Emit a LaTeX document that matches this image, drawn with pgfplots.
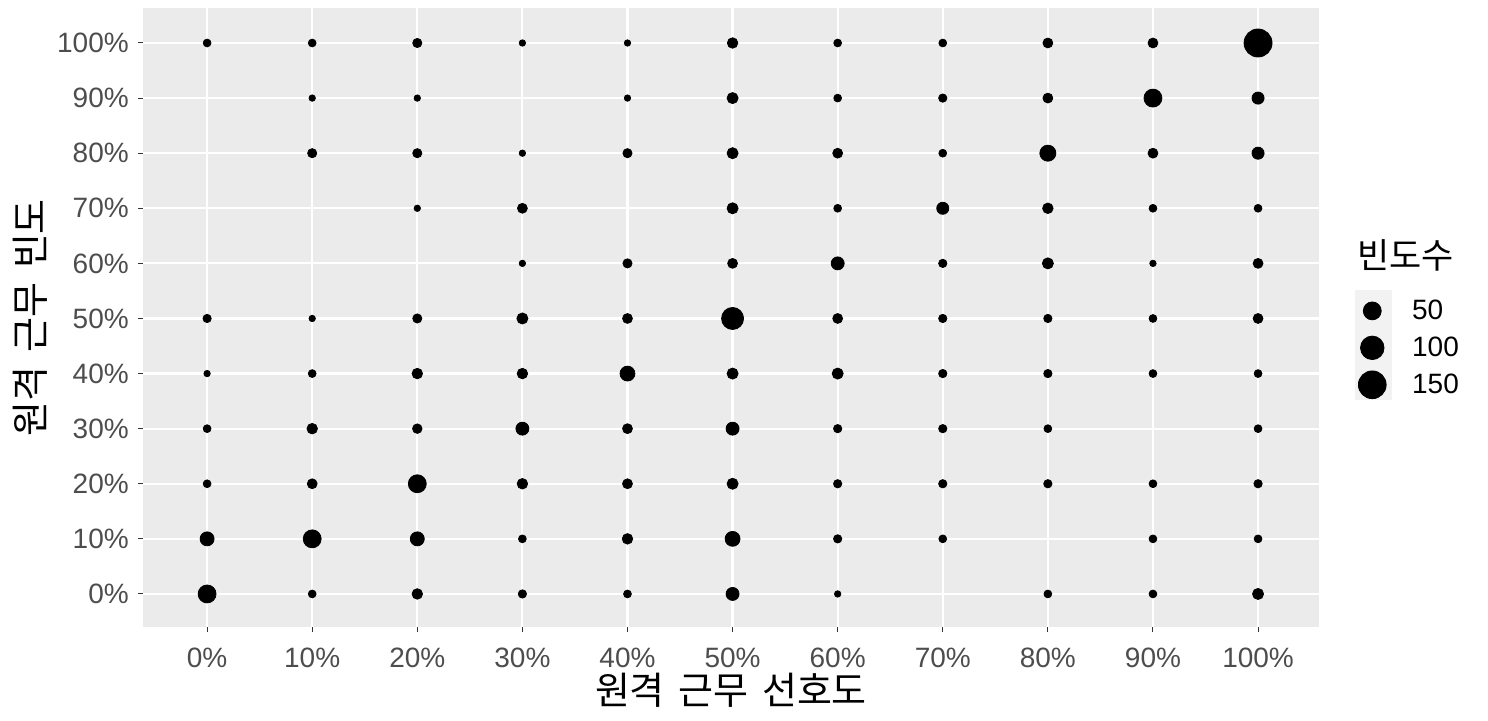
\documentclass[border=0pt]{standalone}
\usepackage{fontspec}
\setmainfont{Liberation Sans}
\newfontfamily\kr{Noto Sans CJK KR}
\newfontfamily\krwide[WordSpace=1.6]{Noto Sans CJK KR}
\usepackage{pgfplots}
\usepackage{pgfplotstable}
\pgfplotsset{compat=1.18}
\definecolor{panelbg}{HTML}{EBEBEB}
\definecolor{tickgray}{HTML}{4D4D4D}
\definecolor{tickline}{HTML}{333333}
\definecolor{keybg}{HTML}{F2F2F2}

% x = preference, y = frequency, n = count
\pgfplotstableread{
x y n
0 100 3
10 100 3
20 100 6
30 100 1
40 100 1
50 100 10
60 100 3
70 100 3
80 100 8
90 100 8
100 100 153
10 90 1
20 90 1
40 90 1
50 90 12
60 90 3
70 90 4
80 90 8
90 90 50
100 90 16
10 80 6
20 80 6
30 80 1
40 80 6
50 80 12
60 80 8
70 80 3
80 80 37
90 80 8
100 80 16
20 70 1
30 70 8
50 70 12
60 70 3
70 70 16
80 70 10
90 70 3
100 70 3
30 60 1
40 60 6
50 60 8
60 60 20
70 60 4
80 60 12
90 60 1
100 60 8
0 50 4
10 50 1
20 50 6
30 50 12
40 50 8
50 50 85
60 50 8
70 50 4
80 50 4
90 50 3
100 50 8
0 40 1
10 40 3
20 40 10
30 40 10
40 40 30
50 40 12
60 40 12
70 40 4
80 40 4
90 40 3
100 40 3
0 30 3
10 30 10
20 30 7
30 30 20
40 30 8
50 30 20
60 30 4
70 30 4
80 30 3
100 30 3
0 20 3
10 20 8
20 20 50
30 20 10
40 20 8
50 20 12
60 20 4
70 20 4
80 20 4
90 20 3
100 20 4
0 10 25
10 10 50
20 10 25
30 10 3
40 10 10
50 10 30
60 10 4
70 10 3
90 10 3
100 10 3
0 0 50
10 0 3
20 0 10
30 0 4
40 0 3
50 0 20
60 0 1
80 0 3
90 0 3
100 0 12
}\freqdata

\begin{document}
\begin{tikzpicture}
\useasboundingbox (-71.5pt,-46.5pt) rectangle (672.5pt,313.5pt);
\begin{axis}[
  width=588pt, height=309.5pt, scale only axis,
  xmin=-6.1, xmax=105.8,
  ymin=-6.0, ymax=106.35,
  clip=false,
  axis background/.style={fill=panelbg},
  axis line style={draw=none},
  xtick={0,10,...,100}, ytick={0,10,...,100},
  xticklabels={0\%,10\%,20\%,30\%,40\%,50\%,60\%,70\%,80\%,90\%,100\%},
  yticklabels={0\%,10\%,20\%,30\%,40\%,50\%,60\%,70\%,80\%,90\%,100\%},
  xtick pos=bottom, ytick pos=left,
  tick align=outside, major tick length=2.6pt,
  tick style={tickline, line width=0.5pt},
  ticklabel style={font=\fontsize{14}{16}\selectfont, text=tickgray},
  xticklabel style={yshift=-4.5pt},
  yticklabel style={xshift=-1pt},
  xmajorgrids, ymajorgrids,
  major grid style={white, line width=1.1pt},
  xlabel={\krwide 원격 근무 선호도},
  ylabel={\krwide 원격 근무 빈도},
  label style={font=\fontsize{19}{22}\selectfont},
  xlabel style={at={(axis description cs:0.5,-0.1018)}, anchor=center},
  ylabel style={at={(axis description cs:-0.0961,0.5)}, anchor=center},
  legend style={draw=none, fill=none, at={(rel axis cs:1.0335,0.451)}, anchor=west,
    inner sep=0pt, outer sep=0pt, row sep=3.2pt,
    font=\fontsize{14}{16}\selectfont,
    /tikz/every odd column/.append style={column sep=11pt}},
  legend cell align=left,
]
\fill[keybg] (rel axis cs:1.0306,0.367) rectangle (rel axis cs:1.062,0.544);
\node[anchor=west, font=\kr\fontsize{17.5}{20}\selectfont, inner sep=0pt]
  at (rel axis cs:1.032,0.601) {빈도수};
\addplot[scatter, only marks, mark=*, black,
  scatter/use mapped color={draw=black, fill=black},
  visualization depends on={1.125+0.475*sqrt(\thisrow{n}) \as \rad},
  scatter/@pre marker code/.append style={/tikz/mark size=\rad pt},
  forget plot]
  table[x=x, y=y] {\freqdata};
\addlegendimage{only marks, mark=*, black, mark size=4.48pt}
\addlegendentry{50}
\addlegendimage{only marks, mark=*, black, mark size=5.88pt}
\addlegendentry{100}
\addlegendimage{only marks, mark=*, black, mark size=6.94pt}
\addlegendentry{150}
\end{axis}
\end{tikzpicture}
\end{document}
